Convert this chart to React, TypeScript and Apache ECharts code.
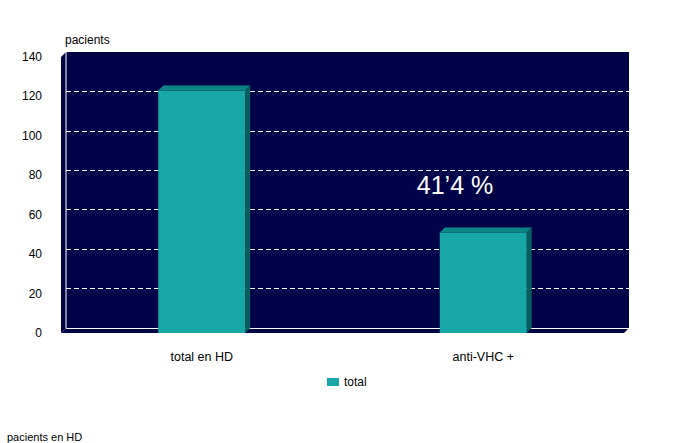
import React, { useEffect, useRef } from 'react';
import * as echarts from 'echarts';

const categories = ['total en HD', 'anti-VHC +'];
const totalValues = [123, 51];
const yMin = 0;
const yMax = 140;
const yInterval = 20;
const seriesName = 'total';
const yAxisTitle = 'pacients';
const footnote = 'pacients en HD';
const annotation = '41\u20194 %';

const NAVY = '#020249';
const TEAL = '#18a7a7';
const TEAL_TOP = '#0e8585';
const TEAL_SIDE = '#065e5e';
const FONT = '"Liberation Sans", Arial, sans-serif';
const DEPTH = 5;
const BAR_W = 87;

export default function App() {
  const ref = useRef<HTMLDivElement>(null);
  useEffect(() => {
    const chart = echarts.init(ref.current!, null, { renderer: 'svg' });
    const renderItem = (params: any, api: any) => {
      const idx = api.value(0);
      const val = api.value(1);
      const top = api.coord([idx, val]);
      const base = api.coord([idx, 0]);
      const l = top[0] - BAR_W / 2;
      const r = top[0] + BAR_W / 2;
      const t = top[1];
      const b = base[1];
      const d = DEPTH;
      return {
        type: 'group',
        children: [
          {
            type: 'polygon',
            shape: { points: [[l, t], [l + d, t - d], [r + d, t - d], [r, t]] },
            style: { fill: TEAL_TOP },
          },
          {
            type: 'polygon',
            shape: { points: [[r, t], [r + d, t - d], [r + d, b - d], [r, b]] },
            style: { fill: TEAL_SIDE },
          },
        ],
      };
    };
    const splitColors: string[] = [];
    const nLines = Math.round((yMax - yMin) / yInterval) + 1;
    for (let i = 0; i < nLines; i++) {
      splitColors.push(i === 0 || i === nLines - 1 ? 'rgba(0,0,0,0)' : '#ffffff');
    }
    const option: any = {
      animation: false,
      textStyle: { fontFamily: FONT },
      grid: [
        { left: 61, right: 51, top: 57, bottom: 110, show: false },
        { left: 66, right: 46, top: 52, bottom: 115, show: true, backgroundColor: NAVY, borderWidth: 0 },
      ],
      xAxis: [
        {
          gridIndex: 0,
          type: 'category',
          data: categories,
          axisLine: { show: false },
          axisTick: { show: false },
          axisLabel: { margin: 17, fontSize: 12.5, color: '#000', fontFamily: FONT },
        },
        { gridIndex: 1, type: 'category', data: categories, show: false },
      ],
      yAxis: [
        {
          gridIndex: 0,
          type: 'value',
          min: yMin,
          max: yMax,
          interval: yInterval,
          axisLine: { show: false },
          axisTick: { show: false },
          splitLine: { show: false },
          axisLabel: { margin: 19, fontSize: 12, color: '#000', fontFamily: FONT },
        },
        {
          gridIndex: 1,
          type: 'value',
          min: yMin,
          max: yMax,
          interval: yInterval,
          axisLine: { show: false },
          axisTick: { show: false },
          axisLabel: { show: false },
          splitLine: { show: true, lineStyle: { color: splitColors, type: [5, 3], width: 1 } },
        },
      ],
      legend: {
        data: [seriesName],
        left: 322,
        top: 371,
        itemWidth: 12,
        itemHeight: 8,
        icon: 'rect',
        textStyle: { fontSize: 12, color: '#000', fontFamily: FONT },
      },
      series: [
        {
          type: 'bar',
          name: seriesName,
          data: totalValues,
          xAxisIndex: 0,
          yAxisIndex: 0,
          barWidth: BAR_W,
          itemStyle: { color: TEAL },
          z: 3,
        },
        {
          type: 'custom',
          name: '3d',
          xAxisIndex: 0,
          yAxisIndex: 0,
          data: totalValues.map((v, i) => [i, v]),
          renderItem,
          silent: true,
          z: 4,
        },
      ],
      graphic: [
        { type: 'polygon', z: 1, shape: { points: [[61, 57], [66, 52], [66, 328], [61, 333]] }, style: { fill: NAVY } },
        { type: 'polygon', z: 1, shape: { points: [[61, 333], [66, 328], [629, 328], [624, 333]] }, style: { fill: NAVY } },
        { type: 'line', z: 2, shape: { x1: 66, y1: 52, x2: 66, y2: 328 }, style: { stroke: '#fff', lineWidth: 1 } },
        { type: 'line', z: 2, shape: { x1: 66, y1: 328.5, x2: 629, y2: 328.5 }, style: { stroke: '#fff', lineWidth: 1 } },
        { type: 'text', z: 10, x: 65, y: 40, style: { text: yAxisTitle, fontSize: 12, fill: '#000', fontFamily: FONT, verticalAlign: 'middle' } },
        { type: 'text', z: 10, x: 7, y: 437, style: { text: footnote, fontSize: 11, fill: '#000', fontFamily: FONT, verticalAlign: 'middle' } },
        { type: 'text', z: 10, x: 455, y: 185, style: { text: annotation, fontSize: 25, fill: '#fff', fontFamily: FONT, align: 'center', verticalAlign: 'middle' } },
      ],
    };
    chart.setOption(option);
    return () => chart.dispose();
  }, []);
  return (
    <div
      ref={ref}
      style={{ position: 'absolute', left: 0, top: 0, width: 675, height: 443, background: '#fff' }}
    />
  );
}
